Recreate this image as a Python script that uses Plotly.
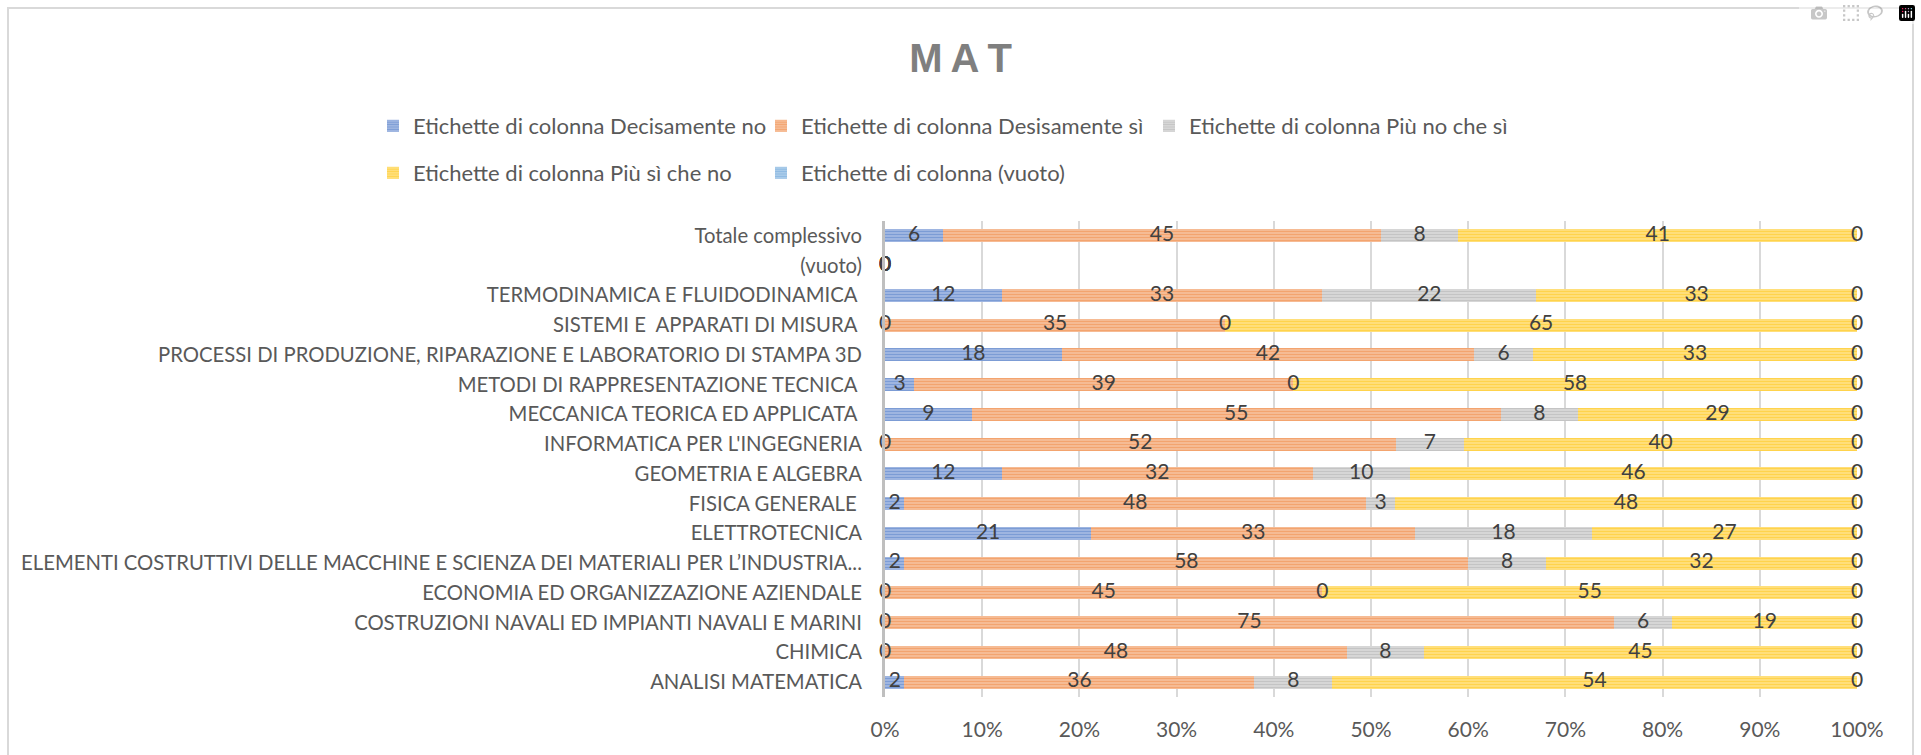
import plotly.graph_objects as go

categories = [
    "ANALISI MATEMATICA",
    "CHIMICA",
    "COSTRUZIONI NAVALI ED IMPIANTI NAVALI E MARINI",
    "ECONOMIA ED ORGANIZZAZIONE AZIENDALE",
    "ELEMENTI COSTRUTTIVI DELLE MACCHINE E SCIENZA DEI MATERIALI PER L\u2019INDUSTRIA...",
    "ELETTROTECNICA",
    "FISICA GENERALE\u00a0",
    "GEOMETRIA E ALGEBRA",
    "INFORMATICA PER L'INGEGNERIA",
    "MECCANICA TEORICA ED APPLICATA\u00a0",
    "METODI DI RAPPRESENTAZIONE TECNICA\u00a0",
    "PROCESSI DI PRODUZIONE, RIPARAZIONE E LABORATORIO DI STAMPA 3D",
    "SISTEMI E\u00a0 APPARATI DI MISURA\u00a0",
    "TERMODINAMICA E FLUIDODINAMICA\u00a0",
    "(vuoto)",
    "Totale complessivo",
]

decisamente_no = [2, 0, 0, 0, 2, 21, 2, 12, 0, 9, 3, 18, 0, 12, 0, 6]
desisamente_si = [36, 48, 75, 45, 58, 33, 48, 32, 52, 55, 39, 42, 35, 33, 0, 45]
piu_no_che_si = [8, 8, 6, 0, 8, 18, 3, 10, 7, 8, 0, 6, 0, 22, 0, 8]
piu_si_che_no = [54, 45, 19, 55, 32, 27, 48, 46, 40, 29, 58, 33, 65, 33, 0, 41]
vuoto = [0, 0, 0, 0, 0, 0, 0, 0, 0, 0, 0, 0, 0, 0, 0, 0]

series_names = [
    "Etichette di colonna Decisamente no",
    "Etichette di colonna Desisamente sì",
    "Etichette di colonna Più no che sì",
    "Etichette di colonna Più sì che no",
    "Etichette di colonna (vuoto)",
]
series_values = [decisamente_no, desisamente_si, piu_no_che_si, piu_si_che_no, vuoto]
light_colors = ["#B4C6E7", "#F8CBAD", "#E2E2E2", "#FFE699", "#BDD7EE"]
dark_colors = ["#4472C4", "#ED7D31", "#A5A5A5", "#FFC000", "#5B9BD5"]
legend_ids = ["legend", "legend", "legend", "legend2", "legend2"]

FONT = "Lato, Liberation Sans, sans-serif"

W, H = 1921, 755
L, R, T, B = 885, 64, 221, 58
PW, PH = W - L - R, H - T - B

# normalise rows to percent
totals = [sum(s[i] for s in series_values) for i in range(len(categories))]
pct = [[(s[i] / totals[i] * 100 if totals[i] else 0) for i in range(len(categories))]
       for s in series_values]

fig = go.Figure()
for k, name in enumerate(series_names):
    fig.add_trace(go.Bar(
        y=categories, x=pct[k], name=name, orientation="h",
        marker=dict(color=light_colors[k], line=dict(width=0),
                    pattern=dict(shape="-", fgcolor=dark_colors[k], bgcolor=light_colors[k],
                                 size=3, solidity=0.6)),
        legend=legend_ids[k], hoverinfo="skip",
    ))

# data labels at segment centres
cum = [0.0] * len(categories)
for k in range(len(series_names)):
    centers = []
    for i in range(len(categories)):
        centers.append(cum[i] + pct[k][i] / 2)
        cum[i] += pct[k][i]
    fig.add_trace(go.Scatter(
        y=categories, x=centers, mode="text",
        text=[str(v) for v in series_values[k]],
        textfont=dict(family=FONT, size=21, color="#404040"),
        showlegend=False, cliponaxis=False, hoverinfo="skip",
    ))

def px2x(px):
    return (px - L) / PW

def px2y(py):
    return (H - B - py) / PH

fig.add_shape(type="rect", xref="paper", yref="paper",
              x0=px2x(8), x1=px2x(1913), y0=px2y(790), y1=px2y(8),
              line=dict(color="#D9D9D9", width=2), fillcolor="rgba(0,0,0,0)", layer="below")

fig.update_layout(
    width=W, height=H,
    margin=dict(l=L, r=R, t=T, b=B, autoexpand=False),
    paper_bgcolor="white", plot_bgcolor="white",
    barmode="stack", bargap=0.56,
    title=dict(text="M\u2009A\u2009T", x=0.5, xref="container", xanchor="center",
               y=1 - 58 / H, yanchor="middle",
               font=dict(family="Liberation Sans, Arial, sans-serif", size=40,
                         color="#7F7F7F", weight="bold")),
    font=dict(family=FONT, size=21, color="#595959"),
    legend=dict(orientation="h", x=px2x(373), xanchor="left", y=px2y(126), yanchor="middle",
                entrywidth=343, font=dict(family=FONT, size=22, color="#595959"),
                bgcolor="rgba(0,0,0,0)", traceorder="normal"),
    legend2=dict(orientation="h", x=px2x(373), xanchor="left", y=px2y(173), yanchor="middle",
                 entrywidth=343, font=dict(family=FONT, size=22, color="#595959"),
                 bgcolor="rgba(0,0,0,0)", traceorder="normal"),
    xaxis=dict(range=[0, 100], dtick=10, ticksuffix="%", showgrid=True, gridcolor="#D9D9D9",
               gridwidth=1.5, zeroline=False, showline=False, ticks="", ticklabelstandoff=18,
               tickfont=dict(family=FONT, size=21, color="#595959"), fixedrange=True),
    yaxis=dict(type="category", categoryorder="array", categoryarray=categories,
               range=[-0.5, len(categories) - 0.5], showgrid=False, zeroline=False,
               showline=True, linecolor="#BFBFBF", linewidth=3, ticks="",
               ticklabelstandoff=16,
               tickfont=dict(family=FONT, size=20.3, color="#595959"), fixedrange=True),
    showlegend=True,
)

fig.write_html("out.html", post_script="document.body.style.margin='0';document.body.style.overflow='hidden';")
